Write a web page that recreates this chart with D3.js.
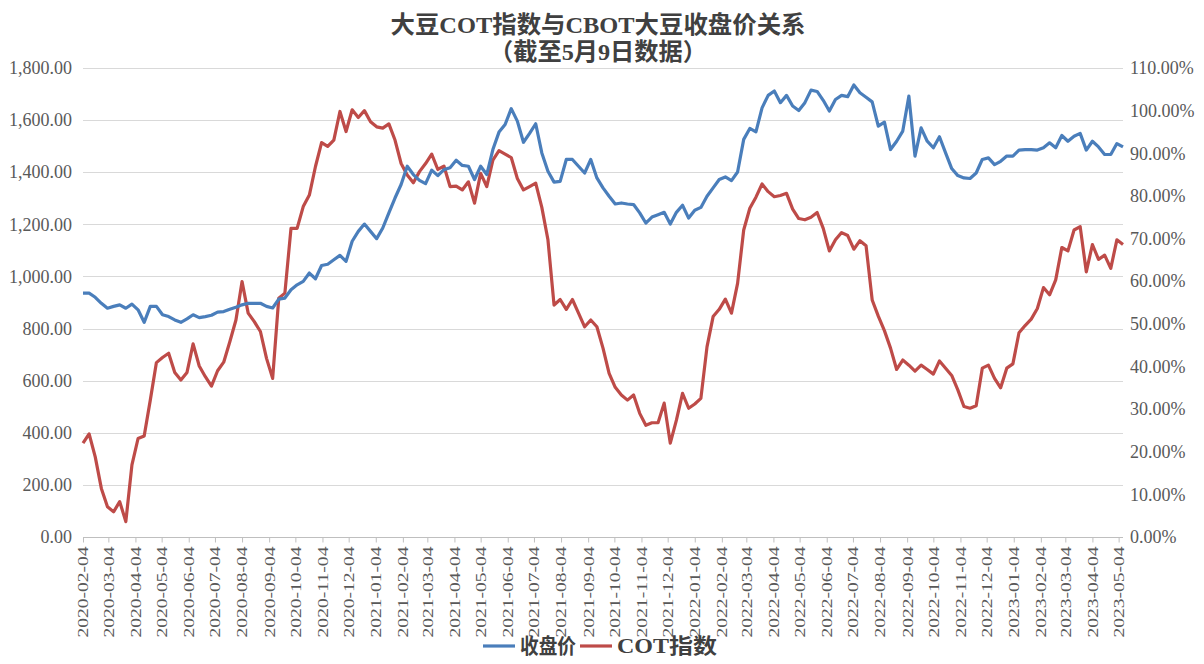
<!DOCTYPE html>
<html>
<head>
<meta charset="utf-8">
<script src="https://cdn.jsdelivr.net/npm/d3@7"></script>
<style>
  html, body { margin: 0; padding: 0; background: #fff; }
  svg { display: block; }
</style>
</head>
<body>
<svg id="chart" width="1204" height="664"></svg>
<script>
// ---------- DATA ----------
const startDate = "2020-02-04";           // first weekly observation (Tuesday)
const seriesNames = ["收盘价", "COT指数"];

// CBOT soybean close (left axis)
const closePrice = [
  936, 936, 920, 897, 878, 885, 891, 878, 894, 872, 824, 885, 885, 853, 846, 833, 824, 837, 853, 842,
  846, 851, 863, 865, 874, 882, 891, 897, 897, 897, 885, 879, 913, 917,
  949, 968, 981, 1013, 991, 1042, 1047, 1064, 1081, 1058, 1135, 1173, 1201, 1173, 1145, 1186, 1244, 1301,
  1353, 1423, 1391, 1369, 1356, 1408, 1387, 1410, 1417, 1446, 1426, 1423, 1372, 1423, 1391, 1487, 1554, 1583,
  1644, 1596, 1515, 1549, 1586, 1474, 1404, 1362, 1365, 1449, 1449, 1423, 1397, 1449, 1378, 1340, 1308, 1278,
  1282, 1278, 1276, 1244, 1205, 1228, 1237, 1246, 1201, 1246, 1273, 1224, 1254, 1265, 1308, 1340,
  1372, 1382, 1368, 1401, 1526, 1568, 1555, 1647, 1695, 1712, 1667, 1695, 1654, 1637, 1667, 1715, 1710, 1676,
  1635, 1679, 1695, 1690, 1735, 1705, 1688, 1670, 1577, 1592, 1487, 1519, 1558, 1692, 1462, 1570,
  1519, 1494, 1536, 1474, 1414, 1387, 1378, 1376, 1397, 1449, 1455, 1429, 1442, 1462, 1462, 1485, 1487, 1487,
  1485, 1494, 1513, 1494, 1541, 1519, 1538, 1549, 1485, 1519, 1497, 1468, 1468, 1510, 1497
];

// COT index in percent (right axis)
const cotIndex = [
  22.0, 24.2, 18.8, 11.4, 7.1, 5.9, 8.3, 3.6, 16.9, 23.1, 23.7, 32.1, 40.9, 42.1, 43.1, 38.6, 36.8, 38.6, 45.3, 40.1,
  37.6, 35.4, 39.0, 41.0, 45.8, 50.9, 59.9, 52.5, 50.5, 48.2, 41.9, 37.2, 56.0, 57.2,
  72.4, 72.4, 77.5, 80.2, 86.9, 92.5, 91.6, 93.1, 99.8, 95.1, 100.2, 98.4, 100.0, 97.4, 96.2, 95.9, 96.9, 93.1,
  87.6, 84.9, 83.1, 85.7, 87.6, 89.8, 86.2, 87.0, 82.2, 82.3, 81.4, 83.3, 78.3, 85.3, 82.2, 88.4, 90.6,
  89.8, 89.0, 84.1, 81.4, 82.2, 83.0, 77.3, 69.7, 54.4, 55.7, 53.4, 55.7, 52.5, 49.3, 50.9, 49.3, 44.3, 38.4,
  35.1, 33.3, 32.1, 33.3, 29.0, 26.2, 26.8, 26.8, 31.4, 22.0, 27.4, 33.7, 30.2, 31.2, 32.5, 44.6, 51.7,
  53.4, 55.8, 52.5, 59.5, 72.0, 77.1, 79.7, 82.8, 81.0, 79.8, 80.1, 80.6, 76.9, 74.7, 74.4, 75.0, 76.1, 72.4,
  67.1, 69.7, 71.4, 70.7, 67.5, 69.5, 68.3, 55.6, 51.8, 48.4, 44.3, 39.3, 41.5, 40.3, 38.9, 40.3,
  39.3, 38.2, 41.3, 39.6, 37.9, 34.5, 30.6, 30.2, 30.8, 39.6, 40.3, 37.2, 35.0, 39.6, 40.6, 47.9, 49.6, 51.1,
  53.6, 58.5, 56.8, 60.3, 67.9, 67.1, 72.0, 72.8, 62.2, 68.6, 65.1, 66.1, 63.0, 69.7, 68.6
];

// x-axis tick labels (monthly)
const xTickLabels = [
  "2020-02-04","2020-03-04","2020-04-04","2020-05-04","2020-06-04","2020-07-04","2020-08-04","2020-09-04",
  "2020-10-04","2020-11-04","2020-12-04","2021-01-04","2021-02-04","2021-03-04","2021-04-04","2021-05-04",
  "2021-06-04","2021-07-04","2021-08-04","2021-09-04","2021-10-04","2021-11-04","2021-12-04","2022-01-04",
  "2022-02-04","2022-03-04","2022-04-04","2022-05-04","2022-06-04","2022-07-04","2022-08-04","2022-09-04",
  "2022-10-04","2022-11-04","2022-12-04","2023-01-04","2023-02-04","2023-03-04","2023-04-04","2023-05-04"
];
const leftTicks = [0, 200, 400, 600, 800, 1000, 1200, 1400, 1600, 1800];
const rightTicks = [0, 10, 20, 30, 40, 50, 60, 70, 80, 90, 100, 110];

const titleLine1 = "大豆COT指数与CBOT大豆收盘价关系";
const titleLine2 = "（截至5月9日数据）";

// ---------- BUILD ----------
const parse = d3.utcParse("%Y-%m-%d");
const t0 = parse(startDate);
const dates = closePrice.map((_, i) => d3.utcDay.offset(t0, 7 * i));

const svg = d3.select("#chart");
const W = 1204, H = 664;
const plot = { left: 83, right: 1123, top: 68, bottom: 537 };

const serifFont = "'Liberation Serif', 'Noto Sans CJK SC', serif";
const axisColor = "#595959";

const x = d3.scaleUtc().domain([t0, dates[dates.length - 1]]).range([plot.left, plot.right]);
const yL = d3.scaleLinear().domain([0, 1800]).range([plot.bottom, plot.top]);
const yR = d3.scaleLinear().domain([0, 110]).range([plot.bottom, plot.top]);

svg.append("rect").attr("width", W).attr("height", H).attr("fill", "#fff");

// gridlines
svg.append("g").selectAll("line").data(leftTicks.filter(d => d > 0)).join("line")
  .attr("x1", plot.left).attr("x2", plot.right)
  .attr("y1", d => Math.round(yL(d)) + 0.5).attr("y2", d => Math.round(yL(d)) + 0.5)
  .attr("stroke", "#d9d9d9").attr("stroke-width", 1);

// x axis
const tickDates = xTickLabels.map(parse);
const xAxis = d3.axisBottom(x).tickValues(tickDates).tickSize(5).tickSizeOuter(0)
  .tickFormat((d, i) => xTickLabels[i]);
const gx = svg.append("g").attr("transform", `translate(0,${Math.round(plot.bottom) + 0.5})`).call(xAxis);
gx.select(".domain").attr("stroke", "#bfbfbf").attr("d", `M${plot.left},0H${plot.right}`);
gx.selectAll(".tick line").attr("stroke", "#bfbfbf");
gx.selectAll(".tick text")
  .attr("font-family", serifFont).attr("font-size", 14).attr("fill", axisColor)
  .attr("text-anchor", "end").attr("transform", "rotate(-90)")
  .attr("x", -9).attr("y", 0).attr("dy", "0.35em")
  .attr("textLength", 91).attr("lengthAdjust", "spacingAndGlyphs");

// left axis
const yAxisL = d3.axisLeft(yL).tickValues(leftTicks).tickSize(0).tickFormat(d3.format(",.2f"));
const gl = svg.append("g").attr("transform", `translate(${plot.left},0)`).call(yAxisL);
gl.select(".domain").remove();
gl.selectAll(".tick text").attr("font-family", serifFont).attr("font-size", 18)
  .attr("fill", axisColor).attr("x", -11);

// right axis
const yAxisR = d3.axisRight(yR).tickValues(rightTicks).tickSize(0).tickFormat(d => d3.format(".2f")(d) + "%");
const gr = svg.append("g").attr("transform", `translate(${plot.right},0)`).call(yAxisR);
gr.select(".domain").remove();
gr.selectAll(".tick text").attr("font-family", serifFont).attr("font-size", 18)
  .attr("fill", axisColor).attr("x", 7);

// lines
const blue = "#4a7ebb", red = "#be4b48";
const lineL = d3.line().x((d, i) => x(dates[i])).y(d => yL(d));
const lineR = d3.line().x((d, i) => x(dates[i])).y(d => yR(d));
svg.append("path").datum(cotIndex).attr("d", lineR)
  .attr("fill", "none").attr("stroke", red).attr("stroke-width", 3.2).attr("stroke-linejoin", "round");
svg.append("path").datum(closePrice).attr("d", lineL)
  .attr("fill", "none").attr("stroke", blue).attr("stroke-width", 3.2).attr("stroke-linejoin", "round");

// title
svg.append("text").attr("x", 598).attr("y", 33).attr("text-anchor", "middle")
  .attr("font-family", serifFont).attr("font-weight", 700).attr("font-size", 24)
  .attr("fill", "#404040").attr("textLength", 415).attr("lengthAdjust", "spacingAndGlyphs")
  .text(titleLine1);
svg.append("text").attr("x", 598).attr("y", 60).attr("text-anchor", "middle")
  .attr("font-family", serifFont).attr("font-weight", 700).attr("font-size", 24)
  .attr("fill", "#404040").attr("textLength", 218).attr("lengthAdjust", "spacingAndGlyphs")
  .text(titleLine2);

// legend
const legend = svg.append("g");
const items = [
  { name: seriesNames[0], color: blue, x: 483, len: 56 },
  { name: seriesNames[1], color: red, x: 580, len: 100 }
];
items.forEach(it => {
  legend.append("line").attr("x1", it.x).attr("x2", it.x + 32).attr("y1", 646).attr("y2", 646)
    .attr("stroke", it.color).attr("stroke-width", 3.2);
  legend.append("text").attr("x", it.x + 37).attr("y", 653)
    .attr("font-family", serifFont).attr("font-weight", 700).attr("font-size", 21)
    .attr("fill", "#404040").attr("textLength", it.len).attr("lengthAdjust", "spacingAndGlyphs")
    .text(it.name);
});
</script>
</body>
</html>
